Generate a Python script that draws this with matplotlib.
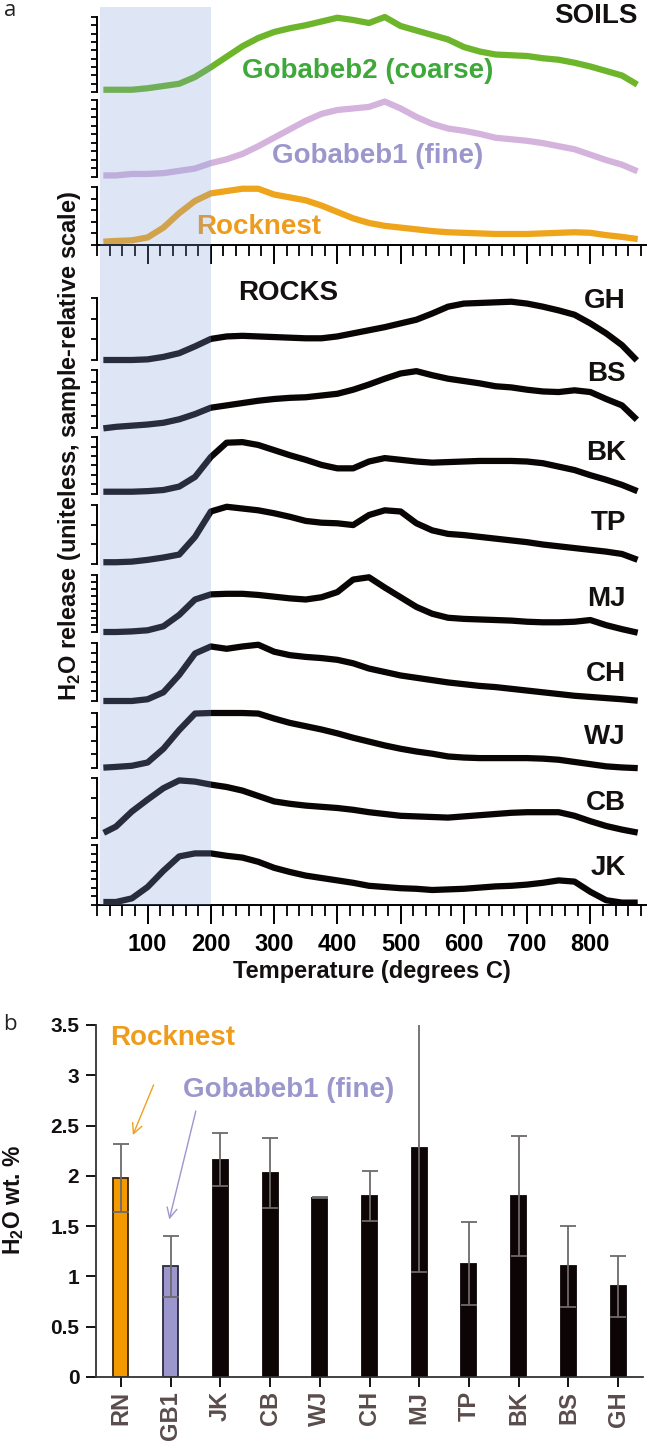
import numpy as np
import matplotlib
matplotlib.use('Agg')
import matplotlib.pyplot as plt
from matplotlib.ticker import MultipleLocator, FixedLocator, NullFormatter

plt.rcParams['font.family'] = ['Liberation Sans', 'DejaVu Sans']
plt.rcParams['font.weight'] = 'bold'
plt.rcParams['mathtext.fontset'] = 'custom'
plt.rcParams['mathtext.rm'] = 'Liberation Sans:bold'
plt.rcParams['mathtext.bf'] = 'Liberation Sans:bold'

# ---- panel a: H2O release traces (normalised to each trace's own scale) ----
temps = [35, 50, 75, 100, 125, 150, 175, 200, 225, 250, 275, 300, 325, 350,
         375, 400, 425, 450, 475, 500, 525, 550, 575, 600, 625, 650, 675,
         700, 725, 750, 775, 800, 825, 850, 870]

gobabeb2 = [0.03, 0.03, 0.03, 0.05, 0.08, 0.11, 0.20, 0.33, 0.47, 0.61, 0.72, 0.80,
            0.85, 0.89, 0.94, 0.99, 0.96, 0.92, 1.00, 0.88, 0.82, 0.76, 0.70, 0.60,
            0.54, 0.50, 0.49, 0.48, 0.45, 0.43, 0.39, 0.34, 0.28, 0.22, 0.12]
gobabeb1 = [0.02, 0.02, 0.04, 0.04, 0.05, 0.08, 0.11, 0.18, 0.23, 0.30, 0.40, 0.51,
            0.62, 0.73, 0.82, 0.87, 0.89, 0.91, 0.98, 0.89, 0.78, 0.69, 0.63, 0.60,
            0.56, 0.51, 0.49, 0.47, 0.44, 0.40, 0.36, 0.29, 0.22, 0.16, 0.09]
rocknest = [0.06, 0.07, 0.08, 0.13, 0.30, 0.55, 0.76, 0.89, 0.93, 0.97, 0.97, 0.87,
            0.82, 0.77, 0.68, 0.57, 0.46, 0.38, 0.33, 0.30, 0.27, 0.24, 0.22, 0.21,
            0.20, 0.19, 0.19, 0.19, 0.20, 0.21, 0.22, 0.21, 0.17, 0.14, 0.11]

gh = [0.0, 0.0, 0.0, 0.01, 0.05, 0.11, 0.22, 0.34, 0.38, 0.39, 0.38, 0.37, 0.36, 0.35,
      0.35, 0.38, 0.43, 0.48, 0.53, 0.59, 0.65, 0.75, 0.86, 0.91, 0.92, 0.93, 0.94,
      0.91, 0.86, 0.80, 0.73, 0.59, 0.43, 0.24, 0.03]
bs = [0.0, 0.02, 0.04, 0.06, 0.09, 0.15, 0.24, 0.35, 0.39, 0.43, 0.47, 0.50, 0.52, 0.53,
      0.56, 0.59, 0.66, 0.75, 0.85, 0.94, 0.98, 0.91, 0.85, 0.81, 0.77, 0.72, 0.70,
      0.66, 0.63, 0.62, 0.65, 0.62, 0.50, 0.39, 0.18]
bk = [0.04, 0.04, 0.04, 0.05, 0.07, 0.13, 0.30, 0.65, 0.90, 0.91, 0.86, 0.77, 0.68, 0.60,
      0.51, 0.45, 0.45, 0.57, 0.63, 0.60, 0.57, 0.55, 0.56, 0.57, 0.58, 0.58, 0.58,
      0.57, 0.54, 0.48, 0.42, 0.33, 0.25, 0.16, 0.07]
tp = [0.03, 0.03, 0.04, 0.07, 0.11, 0.16, 0.46, 0.89, 0.97, 0.94, 0.91, 0.86, 0.80, 0.73,
      0.70, 0.69, 0.66, 0.83, 0.91, 0.89, 0.69, 0.57, 0.51, 0.49, 0.46, 0.43, 0.40,
      0.37, 0.33, 0.30, 0.27, 0.24, 0.21, 0.17, 0.09]
mj = [0.0, 0.0, 0.01, 0.03, 0.10, 0.30, 0.57, 0.66, 0.67, 0.67, 0.65, 0.62, 0.59, 0.57,
      0.61, 0.70, 0.92, 0.96, 0.78, 0.61, 0.44, 0.32, 0.25, 0.23, 0.22, 0.21, 0.20,
      0.18, 0.17, 0.17, 0.18, 0.21, 0.12, 0.05, 0.0]
ch = [0.0, 0.0, 0.0, 0.03, 0.15, 0.45, 0.82, 0.94, 0.90, 0.94, 0.97, 0.85, 0.79, 0.76,
      0.74, 0.71, 0.65, 0.56, 0.50, 0.44, 0.40, 0.36, 0.32, 0.29, 0.26, 0.24, 0.21,
      0.18, 0.15, 0.12, 0.09, 0.07, 0.05, 0.03, 0.01]
wj = [0.01, 0.02, 0.04, 0.10, 0.35, 0.69, 0.99, 1.0, 1.0, 1.0, 0.99, 0.90, 0.82, 0.76,
      0.70, 0.63, 0.55, 0.48, 0.41, 0.35, 0.30, 0.26, 0.21, 0.19, 0.18, 0.18, 0.18,
      0.18, 0.17, 0.15, 0.11, 0.07, 0.03, 0.01, 0.0]
cb = [0.11, 0.19, 0.44, 0.64, 0.83, 0.96, 0.94, 0.89, 0.85, 0.79, 0.70, 0.61, 0.57, 0.54,
      0.52, 0.50, 0.47, 0.43, 0.40, 0.37, 0.36, 0.35, 0.34, 0.36, 0.38, 0.40, 0.42,
      0.43, 0.43, 0.43, 0.37, 0.28, 0.20, 0.14, 0.10]
jk = [0.05, 0.05, 0.11, 0.30, 0.57, 0.81, 0.86, 0.86, 0.82, 0.79, 0.72, 0.62, 0.55, 0.49,
      0.45, 0.41, 0.37, 0.32, 0.30, 0.28, 0.27, 0.25, 0.26, 0.27, 0.29, 0.31, 0.32,
      0.34, 0.37, 0.41, 0.39, 0.22, 0.08, 0.04, 0.04]

soil_names = ['Gobabeb2 (coarse)', 'Gobabeb1 (fine)', 'Rocknest']
soil_curves = [gobabeb2, gobabeb1, rocknest]
rock_names = ['GH', 'BS', 'BK', 'TP', 'MJ', 'CH', 'WJ', 'CB', 'JK']
rock_curves = [gh, bs, bk, tp, mj, ch, wj, cb, jk]

# ---- panel b: H2O wt. % ----
samples = ['RN', 'GB1', 'JK', 'CB', 'WJ', 'CH', 'MJ', 'TP', 'BK', 'BS', 'GH']
water = [1.98, 1.10, 2.16, 2.03, 1.78, 1.80, 2.28, 1.12, 1.80, 1.10, 0.90]
water_lo = [1.64, 0.80, 1.90, 1.68, 1.78, 1.55, 1.04, 0.72, 1.20, 0.70, 0.60]
water_hi = [2.32, 1.40, 2.43, 2.38, 1.79, 2.05, 3.52, 1.54, 2.40, 1.50, 1.20]

W, H = 650, 1448
fig = plt.figure(figsize=(W / 100, H / 100), dpi=100)


def px_axes(x0, y0, x1, y1):
    return fig.add_axes([x0 / W, 1 - y1 / H, (x1 - x0) / W, (y1 - y0) / H])


XL, XR = 97, 646
xlim = (20, 888)
ink = '#141010'

soil_colors = ['#6db52a', '#d4b4dc', '#eea51c']
soil_text_colors = ['#3ea83a', '#9b97cc', '#ef9b1b']
soil_rows = [(17, 92), (100, 177), (187, 245)]
soil_nticks = [10, 10, 6]
soil_text = [(448, 0.28), (464, 0.27), (275, 0.31)]

rock_rows = [(298, 360), (370, 428), (437, 494), (505, 564), (575, 632),
             (643, 701), (713, 768), (778, 838), (845, 905)]
rock_nticks = [4, 6, 7, 4, 9, 7, 5, 4, 8]
rock_label_y = [301, 374, 453, 523, 599, 674, 737, 803, 868]


def style_trace_axis(ax, nt):
    ax.set_xlim(*xlim)
    ax.set_ylim(0, 1)
    ax.patch.set_alpha(0)
    for s in ['top', 'right', 'bottom']:
        ax.spines[s].set_visible(False)
    ax.spines['left'].set_linewidth(1.4)
    ax.yaxis.set_major_locator(FixedLocator(np.linspace(0, 1, nt)))
    ax.yaxis.set_major_formatter(NullFormatter())
    ax.tick_params(axis='y', direction='out', length=4.5, width=1.3)
    ax.set_xticks([])


def style_temp_axis(ax, labels):
    ax.spines['bottom'].set_visible(True)
    ax.spines['bottom'].set_linewidth(1.4)
    ax.xaxis.set_major_locator(MultipleLocator(100))
    ax.xaxis.set_minor_locator(MultipleLocator(20))
    ax.tick_params(axis='x', which='major', direction='out', length=14, width=1.4,
                   labelsize=17, pad=6)
    ax.tick_params(axis='x', which='minor', direction='out', length=8, width=1.3)
    if labels:
        ax.set_xticks(range(100, 900, 100))
    else:
        ax.xaxis.set_major_formatter(NullFormatter())


soil_axes = []
for i, (y0, y1) in enumerate(soil_rows):
    ax = px_axes(XL, y0, XR, y1)
    style_trace_axis(ax, soil_nticks[i])
    ax.plot(temps, soil_curves[i], color=soil_colors[i], lw=4.5, clip_on=False)
    tx, ty = soil_text[i]
    ax.text(tx, ty, soil_names[i], color=soil_text_colors[i], fontsize=20,
            fontweight='bold', ha='center', va='center')
    soil_axes.append(ax)
style_temp_axis(soil_axes[-1], False)

rock_axes = []
for i, (y0, y1) in enumerate(rock_rows):
    ax = px_axes(XL, y0, XR, y1)
    style_trace_axis(ax, rock_nticks[i])
    ax.plot(temps, rock_curves[i], color='#0a0505', lw=4.5, clip_on=False)
    rock_axes.append(ax)
style_temp_axis(rock_axes[-1], True)
rock_axes[-1].set_xlabel('Temperature (degrees C)', fontsize=17, fontweight='bold',
                         labelpad=3, color=ink)

# shaded low-temperature window laid over the traces
ov = px_axes(XL, 7, XR, 905)
ov.set_xlim(*xlim)
ov.set_ylim(0, 1)
ov.axis('off')
ov.set_zorder(20)
ov.axvspan(24, 200, color=(0.50, 0.62, 0.86), alpha=0.26, lw=0)

fig.text(638 / W, 1 - 16 / H, 'SOILS', fontsize=20, fontweight='bold', ha='right',
         va='center', color=ink)
fig.text(288 / W, 1 - 293 / H, 'ROCKS', fontsize=20, fontweight='bold', ha='center',
         va='center', color=ink)
for name, yy in zip(rock_names, rock_label_y):
    fig.text(626 / W, 1 - yy / H, name, fontsize=20, fontweight='bold', ha='right',
             va='center', color=ink)

fig.text(70 / W, 1 - 446 / H, r'H$_\mathbf{2}$O release (uniteless, sample-relative scale)',
         rotation=90, fontsize=17, fontweight='bold', ha='center', va='center', color=ink)
fig.text(4 / W, 1 - 11 / H, 'a', fontsize=16, fontweight='normal', family='Open Sans',
         ha='left', va='center', color='#222222')
fig.text(3 / W, 1 - 1025 / H, 'b', fontsize=16, fontweight='normal', family='Open Sans',
         ha='left', va='center', color='#222222')

# ---- panel b ----
axb = px_axes(96, 1025, 643, 1377)
x = np.arange(len(samples))
bar_colors = ['#f39a00', '#9b97cc'] + ['#0d0505'] * (len(samples) - 2)
edge_colors = ['#3a2612', '#2c2a40'] + ['#0d0505'] * (len(samples) - 2)
axb.bar(x, water, width=0.3, color=bar_colors, edgecolor=edge_colors, lw=1.3, zorder=2)
yerr = [np.array(water) - np.array(water_lo), np.array(water_hi) - np.array(water)]
axb.errorbar(x, water, yerr=yerr, fmt='none', ecolor='#6e6a6a', elinewidth=1.3,
             capsize=5.5, capthick=1.3, zorder=3)
axb.set_xlim(-0.5, len(samples) - 0.5)
axb.set_ylim(0, 3.5)
axb.set_yticks(np.arange(0, 3.51, 0.5))
axb.set_yticklabels(['0', '0.5', '1', '1.5', '2', '2.5', '3', '3.5'])
axb.set_xticks(x)
axb.set_xticklabels(samples, rotation=90, color='#5a4c4c', fontsize=17)
for s in ['top', 'right']:
    axb.spines[s].set_visible(False)
for s in ['left', 'bottom']:
    axb.spines[s].set_linewidth(1.3)
    axb.spines[s].set_color('#333333')
axb.tick_params(axis='y', direction='out', length=7, width=1.3, labelsize=15, pad=5,
                labelcolor=ink)
axb.tick_params(axis='x', direction='out', length=7, width=1.3, pad=3)
fig.text(14 / W, 1 - 1200 / H, r'H$_\mathbf{2}$O wt. %', rotation=90, fontsize=16.5,
         fontweight='bold', ha='center', va='center', color=ink)

axb.text(-0.22, 3.37, 'Rocknest', color='#ef9b1b', fontsize=20, fontweight='bold',
         ha='left', va='center')
axb.text(1.24, 2.85, 'Gobabeb1 (fine)', color='#9b97cc', fontsize=20,
         fontweight='bold', ha='left', va='center')
axb.annotate('', xy=(0.22, 2.38), xytext=(0.68, 2.93),
             arrowprops=dict(arrowstyle='->', color='#f0a020', lw=1.0,
                             mutation_scale=18), annotation_clip=False)
axb.annotate('', xy=(0.96, 1.54), xytext=(1.52, 2.67),
             arrowprops=dict(arrowstyle='->', color='#9b97cc', lw=1.0,
                             mutation_scale=18), annotation_clip=False)

fig.savefig('out.png', dpi=100)
